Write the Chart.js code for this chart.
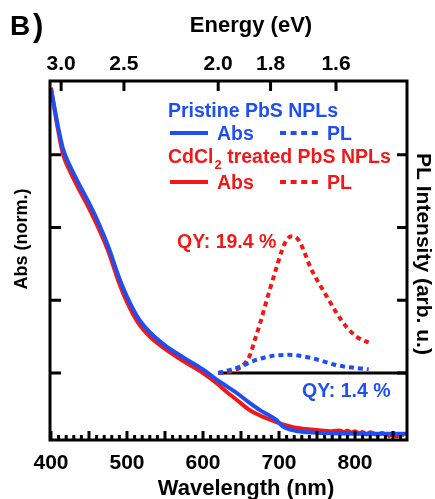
<!DOCTYPE html>
<html><head><meta charset="utf-8">
<script src="https://cdn.jsdelivr.net/npm/chart.js@4"></script>
<style>html,body{margin:0;padding:0;background:#fff}#wrap{width:435px;height:499px}</style>
</head><body><div id="wrap"><canvas id="c" width="435" height="499"></canvas></div>
<script>
// ---- data ----
const wavelengthTicks = [400, 500, 600, 700, 800];
const energyTicks = [3.0, 2.5, 2.0, 1.8, 1.6];
const absTicks = [0.2, 0.4, 0.6, 0.8];
const plTicks = [0, 1, 2, 3];

const absWlPristine = [400,405,410,416,425,438,447,461,475,490,500,515,530,550,574,600,618,630,645,660,675,690,697,705,715,724,745,767,800,868];
const absPristine   = [0.98,0.925,0.87,0.815,0.77,0.715,0.68,0.62,0.55,0.46,0.41,0.35,0.312,0.276,0.243,0.21,0.182,0.165,0.144,0.12,0.098,0.08,0.07,0.053,0.044,0.040,0.036,0.034,0.033,0.033];

const absWlTreated = [400,405,410,416,425,438,447,461,475,490,500,515,530,550,574,600,618,630,645,660,675,690,700,710,720,735,750,770,780,785,790,795,800,805,810,815,820,825,830,835,840,845,850,855,860,865];
const absTreated   = [0.985,0.92,0.86,0.80,0.755,0.70,0.665,0.605,0.537,0.445,0.395,0.337,0.3,0.266,0.233,0.2,0.172,0.15,0.125,0.10,0.083,0.07,0.062,0.056,0.05,0.046,0.043,0.04,0.042,0.037,0.041,0.036,0.04,0.034,0.038,0.031,0.037,0.033,0.029,0.035,0.031,0.027,0.034,0.025,0.032,0.03];

const plWlTreated = [620,630,640,650,655,662,668,675,686,697,704,710,717,722,728,735,741,750,763,776,789,802,810,818];
const plTreated   = [0,0.01,0.03,0.08,0.13,0.25,0.45,0.68,1.08,1.46,1.69,1.83,1.88,1.87,1.79,1.62,1.46,1.28,1.05,0.82,0.63,0.5,0.45,0.42];

const plWlPristine = [620,635,650,665,680,695,712,725,741,755,771,785,800,818];
const plPristine   = [0.0,0.04,0.09,0.16,0.21,0.24,0.25,0.24,0.21,0.17,0.12,0.09,0.07,0.05];

const baselineWl = [620, 869];
const baselinePL = [0, 0];

// ---- styling ----
const BLUE = '#1f4ff2';
const RED = '#f21818';
const FONT = '"Liberation Sans", Arial, sans-serif';

const pts = (xs, ys) => xs.map((x, i) => ({x: x, y: ys[i]}));

const fixW = w => (s) => { s.width = w; };
const fixH = h => (s) => { s.height = h; };

const decor = {
  id: 'decor',
  afterDatasetsDraw(chart) {
    const ctx = chart.ctx;
    const a = chart.chartArea;
    const x = chart.scales.x, y = chart.scales.y, y2 = chart.scales.y2;
    ctx.save();
    ctx.strokeStyle = '#000';
    ctx.lineWidth = 3;
    ctx.lineCap = 'butt';
    // inward ticks
    ctx.beginPath();
    for (let w = 400; w <= 860; w += 10) {
      const px = x.getPixelForValue(w);
      const len = (w % 50 === 0) ? 9 : 5;
      ctx.moveTo(px, a.bottom); ctx.lineTo(px, a.bottom - len);
    }
    energyTicks.forEach(e => {
      const px = x.getPixelForValue(1240 / e);
      ctx.moveTo(px, a.top); ctx.lineTo(px, a.top + 10);
    });
    absTicks.forEach(v => {
      const py = y.getPixelForValue(v);
      ctx.moveTo(a.left, py); ctx.lineTo(a.left + 11, py);
    });
    plTicks.forEach(v => {
      const py = y2.getPixelForValue(v);
      ctx.moveTo(a.right, py); ctx.lineTo(a.right - 10, py);
    });
    ctx.stroke();
    // frame
    ctx.strokeRect(a.left, a.top, a.right - a.left, a.bottom - a.top);

    // axis labels
    ctx.fillStyle = '#000';
    ctx.textAlign = 'center';
    ctx.textBaseline = 'alphabetic';
    ctx.font = 'bold 21px ' + FONT;
    wavelengthTicks.forEach(w => ctx.fillText(String(w), x.getPixelForValue(w), 469));
    energyTicks.forEach(e => ctx.fillText(e.toFixed(1), x.getPixelForValue(1240 / e), 70));
    ctx.font = 'bold 22px ' + FONT;
    ctx.fillText('Energy (eV)', 251, 32);
    ctx.fillText('Wavelength (nm)', 246, 495);
    ctx.save();
    ctx.font = 'bold 18px ' + FONT;
    ctx.translate(27, 239); ctx.rotate(-Math.PI / 2);
    ctx.fillText('Abs (norm.)', 0, 0);
    ctx.restore();
    ctx.save();
    ctx.font = 'bold 21px ' + FONT;
    ctx.translate(417, 254); ctx.rotate(Math.PI / 2);
    ctx.fillText('PL Intensity (arb. u.)', 0, 0);
    ctx.restore();
    ctx.textAlign = 'left';
    ctx.font = 'bold 28px ' + FONT;
    ctx.fillText('B', 10, 35);
    ctx.font = 'bold 31px ' + FONT;
    ctx.fillText(')', 33, 36);

    // legend
    ctx.font = 'bold 19.5px ' + FONT;
    ctx.fillStyle = BLUE;
    ctx.fillText('Pristine PbS NPLs', 168, 117);
    ctx.fillText('Abs', 217, 140);
    ctx.fillText('PL', 327, 140);
    ctx.fillStyle = RED;
    ctx.fillText('CdCl', 168, 163);
    let wC = ctx.measureText('CdCl').width;
    ctx.font = 'bold 13px ' + FONT;
    ctx.fillText('2', 168 + wC + 1, 169);
    let w2 = ctx.measureText('2').width;
    ctx.font = 'bold 19.5px ' + FONT;
    ctx.fillText(' treated PbS NPLs', 168 + wC + 1 + w2, 163);
    ctx.fillText('Abs', 217, 189);
    ctx.fillText('PL', 327, 189);
    ctx.font = 'bold 19.5px ' + FONT;
    ctx.fillText('QY: 19.4 %', 177, 248);
    ctx.fillStyle = BLUE;
    ctx.fillText('QY: 1.4 %', 302, 397);

    ctx.lineWidth = 4;
    [[BLUE, 133], [RED, 182]].forEach(([c, yy]) => {
      ctx.strokeStyle = c;
      ctx.setLineDash([]);
      ctx.beginPath(); ctx.moveTo(170, yy); ctx.lineTo(208, yy); ctx.stroke();
      ctx.setLineDash([6, 4.6]);
      ctx.beginPath(); ctx.moveTo(280, yy); ctx.lineTo(318, yy); ctx.stroke();
    });
    ctx.restore();
  }
};

new Chart(document.getElementById('c'), {
  type: 'line',
  data: {
    datasets: [
      {data: pts(plWlPristine, plPristine), yAxisID: 'y2', borderColor: BLUE, borderWidth: 4, borderDash: [5, 4], order: 1},
      {data: pts(plWlTreated, plTreated), yAxisID: 'y2', borderColor: RED, borderWidth: 4, borderDash: [5, 4], order: 2},
      {data: pts(absWlPristine, absPristine), yAxisID: 'y', borderColor: BLUE, borderWidth: 4, order: 3},
      {data: pts(absWlTreated, absTreated), yAxisID: 'y', borderColor: RED, borderWidth: 4, order: 4},
      {data: pts(baselineWl, baselinePL), yAxisID: 'y2', borderColor: '#000', borderWidth: 3, order: 5}
    ]
  },
  options: {
    responsive: false,
    animation: false,
    events: [],
    layout: {padding: 0},
    elements: {point: {radius: 0}, line: {cubicInterpolationMode: 'monotone', fill: false}},
    plugins: {legend: {display: false}, tooltip: {enabled: false}},
    scales: {
      x: {type: 'linear', position: 'bottom', min: 398.7, max: 868.4,
          grid: {display: false}, border: {display: false}, ticks: {display: false}, afterFit: fixH(59)},
      xTop: {type: 'linear', position: 'top', min: 398.7, max: 868.4,
          grid: {display: false}, border: {display: false}, ticks: {display: false}, afterFit: fixH(81)},
      y: {type: 'linear', position: 'left', min: 0.0157, max: 1.003,
          grid: {display: false}, border: {display: false}, ticks: {display: false}, afterFit: fixW(50)},
      y2: {type: 'linear', position: 'right', min: -0.922, max: 4.016,
          grid: {display: false}, border: {display: false}, ticks: {display: false}, afterFit: fixW(28)}
    }
  },
  plugins: [decor]
});
</script></body></html>
